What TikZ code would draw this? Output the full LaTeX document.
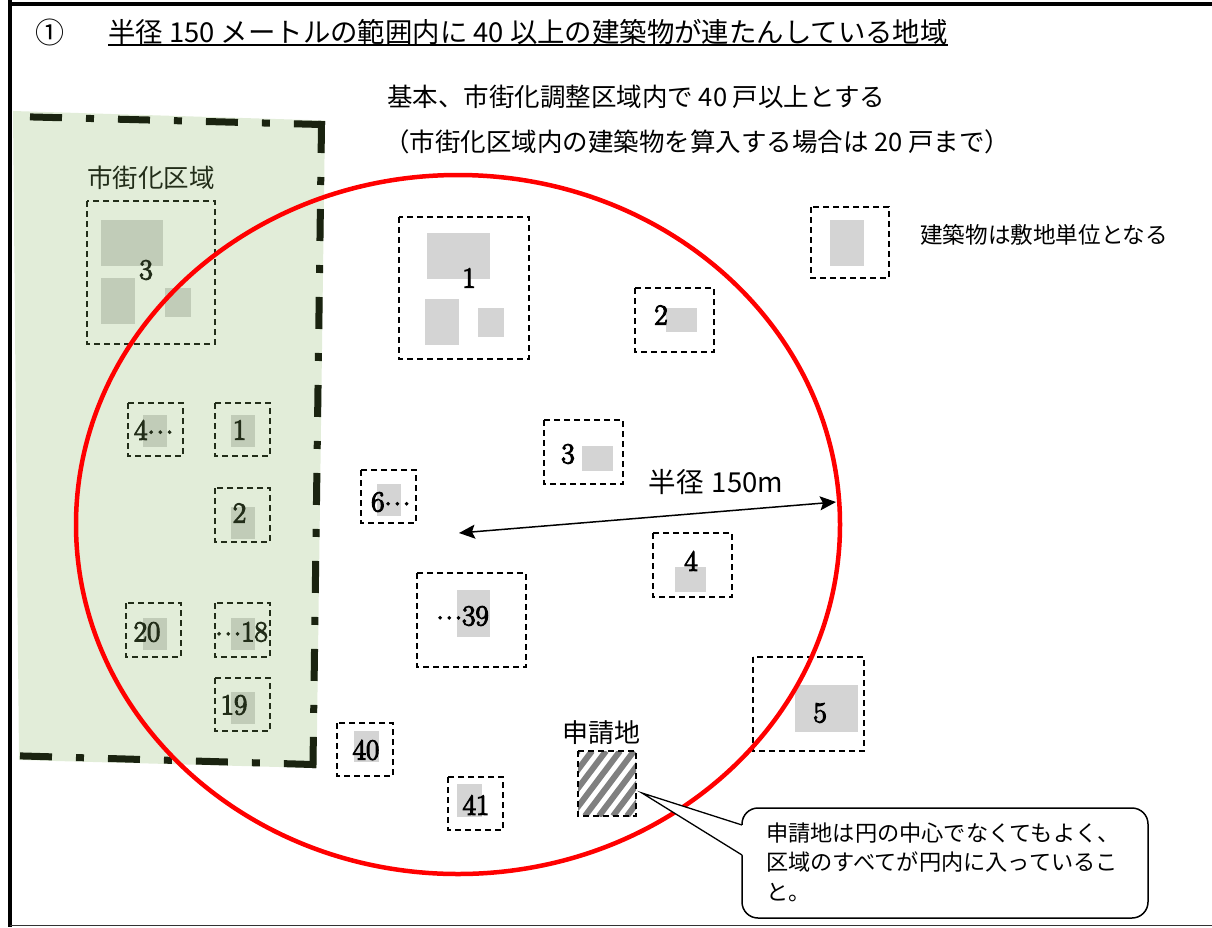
\documentclass[tikz,border=0pt]{standalone}
\usepackage{fontspec}
\newfontfamily\jp{Noto Sans CJK JP}
\newfontfamily\numfont[FakeBold=4]{Latin Modern Roman}
\usetikzlibrary{arrows.meta}
\definecolor{bldg}{HTML}{D4D4D4}
\definecolor{urb}{HTML}{8BB767}
\definecolor{hatchgray}{HTML}{808080}
\definecolor{zoneline}{HTML}{1A2310}
\definecolor{ringred}{HTML}{FF0000}
\newcommand\mydots{\raisebox{0.22em}{.\kern2pt.\kern2pt.}}
\begin{document}
\begin{tikzpicture}[x=1pt,y=-1pt,
  lot/.style={draw=black, line width=1.6pt, dash pattern=on 6pt off 4pt},
  bld/.style={fill=bldg},
  num/.style={font=\numfont\fontsize{29}{30}\selectfont, inner sep=0pt},
  jptext/.style={font=\jp\fontsize{25.5}{28}\selectfont, inner sep=0pt},
  zone/.style={draw=zoneline, line width=7pt, line cap=rect, dash pattern=on 25pt off 31pt on 1pt off 31pt}]
\useasboundingbox (0,0) rectangle (1212,927);
% frame
\draw[line width=4pt] (10,0) -- (10,927);
\draw[line width=4pt] (8,3.5) -- (1212,3.5);
\draw[line width=1.2pt, black!80] (10,925.5) -- (1212,925.5);
% titles
\node[font=\jp\fontsize{29}{30}\selectfont, inner sep=0pt] (circ) at (50,32) {①};
\node[font=\jp\fontsize{27.4}{30}\selectfont, inner sep=0pt, anchor=west] (title) at (108,32) {半径 150 メートルの範囲内に 40 以上の建築物が連たんしている地域};
\draw[line width=1.5pt] (title.south west |- 0,45) -- (title.south east |- 0,45);
\node[jptext, anchor=west] (rule1) at (387,97) {基本、市街化調整区域内で 40 戸以上とする};
\node[jptext, anchor=west] (rule2) at (384,142) {（市街化区域内の建築物を算入する場合は 20 戸まで）};
% urban area contents
\node[jptext] (urbname) at (151,178) {市街化区域};
\draw[lot] (87,201) rectangle (215,344);
\fill[bld] (101,220) rectangle (163,266);
\fill[bld] (101,278) rectangle (135,324);
\fill[bld] (165,288) rectangle (191,317);
\node[num] (u3) at (146,270) {3};
\draw[lot] (128,403) rectangle (183,456);
\fill[bld] (143,415) rectangle (167,447);
\node[num, anchor=west] (u4) at (134,430) {4\mydots};
\draw[lot] (215,403) rectangle (270,456);
\fill[bld] (231,415) rectangle (255,447);
\node[num] (u1) at (239.5,430) {1};
\draw[lot] (215,488) rectangle (270,542);
\fill[bld] (231,507) rectangle (255,539);
\node[num] (u2) at (239.5,513) {2};
\draw[lot] (126,603) rectangle (181,657);
\fill[bld] (143,618) rectangle (167,650);
\node[num] (u20) at (147,632) {20};
\draw[lot] (215,603) rectangle (270,657);
\fill[bld] (231,618) rectangle (255,650);
\node[num, anchor=east] (u18) at (268,632) {\mydots18};
\draw[lot] (215,678) rectangle (270,731);
\fill[bld] (231,692) rectangle (255,724);
\node[num] (u19) at (234,705) {19};
% urban area tint and border
\fill[urb, fill opacity=0.25] (13,111) -- (325,120.5) -- (316.5,768) -- (19,760) -- cycle;
\draw[zone] (33.5,117) -- (321.5,124.5);
\draw[zone] (321.5,124.5) -- (313,764.5);
\draw[zone] (23.5,756) -- (313,764.5);
% buildings outside
\draw[lot] (399,217) rectangle (529,359);
\fill[bld] (427,233) rectangle (490,279);
\fill[bld] (425,299) rectangle (459,345);
\fill[bld] (478,308) rectangle (504,337);
\node[num] (r1) at (469,278) {1};
\draw[lot] (635,288) rectangle (714,352);
\fill[bld] (666,308) rectangle (697,332);
\node[num] (r2) at (661,315) {2};
\draw[lot] (544,420) rectangle (623,484);
\fill[bld] (582,446) rectangle (613,471);
\node[num] (r3) at (568,454) {3};
\draw[lot] (361,470) rectangle (416,523);
\fill[bld] (377,484) rectangle (401,516);
\node[num, anchor=west] (r6) at (371,502) {6\mydots};
\draw[lot] (653,533) rectangle (732,597);
\fill[bld] (675,567) rectangle (706,592);
\node[num] (r4) at (691,561) {4};
\draw[lot] (417,573) rectangle (526,667);
\fill[bld] (457,590) rectangle (490,637);
\node[num, anchor=east] (r39) at (489,616) {\mydots39};
\draw[lot] (753,657) rectangle (864,751);
\fill[bld] (795,685) rectangle (858,732);
\node[num] (r5) at (820,713) {5};
\draw[lot] (337,723) rectangle (393,776);
\fill[bld] (354,731) rectangle (379,762);
\node[num] (r40) at (366,750) {40};
\draw[lot] (448,777) rectangle (503,830);
\fill[bld] (457,784) rectangle (482,817);
\node[num] (r41) at (476,805) {41};
% legend
\draw[lot] (811,207) rectangle (889,278);
\fill[bld] (830,220) rectangle (864,266);
\node[jptext, font=\jp\fontsize{22.6}{26}\selectfont, anchor=west] (legend) at (920,235) {建築物は敷地単位となる};
% application site
\node[jptext, font=\jp\fontsize{26}{28}\selectfont] (sitename) at (601,733) {申請地};
\begin{scope}
\clip (578,751) rectangle (636,816);
\foreach \k in {0,...,9} \draw[hatchgray, line width=6pt] (529+\k*14,816) -- (578+\k*14,751);
\end{scope}
\draw[lot] (578,751) rectangle (636,816);
% radius ring
\draw[ringred, line width=4.5pt] (458,524.5) ellipse [x radius=382, y radius=349.5];
\coordinate (ctr) at (459,533);
\coordinate (rim) at (836,502);
\draw[line width=1.5pt, {Stealth[length=16pt,width=14pt,inset=3pt]}-{Stealth[length=16pt,width=14pt,inset=3pt]}] (ctr) -- (rim);
\node[jptext, font=\jp\fontsize{27.5}{28}\selectfont] (radius) at (716,482) {半径\hspace{8pt}150m};
% callout
\node[draw, line width=1.5pt, rounded corners=16pt, fill=white, minimum width=406pt, minimum height=110pt, inner sep=0pt] (note) at (945,863) {};
\coordinate (tip) at (642,793);
\coordinate (pa) at (742,825);
\coordinate (pb) at (742,855);
\fill[white] (pa) -- (tip) -- (pb) -- ([xshift=3pt]pb) -- ([xshift=3pt]pa) -- cycle;
\draw[line width=1.3pt] (pa) -- (tip) -- (pb);
\node[jptext, font=\jp\fontsize{22.2}{26}\selectfont, anchor=west] (note1) at (766,833) {申請地は円の中心でなくてもよく、};
\node[jptext, font=\jp\fontsize{22.2}{26}\selectfont, anchor=west] (note2) at (766,862) {区域のすべてが円内に入っているこ};
\node[jptext, font=\jp\fontsize{22.2}{26}\selectfont, anchor=west] (note3) at (766,893) {と。};
\end{tikzpicture}
\end{document}
